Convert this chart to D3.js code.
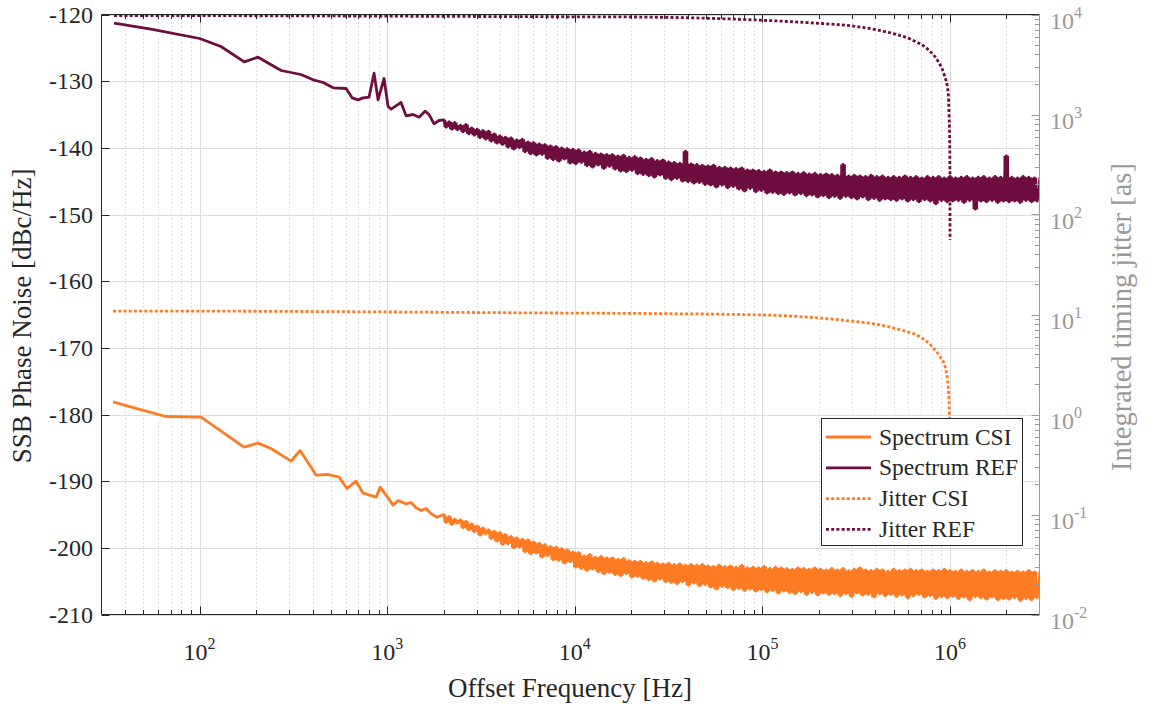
<!DOCTYPE html>
<html lang="en">
<head>
<meta charset="utf-8" />
<title>SSB Phase Noise and Integrated Timing Jitter</title>
<script src="https://cdn.jsdelivr.net/npm/d3@7"></script>
<style>
body { margin:0; background:#fff; }
text { font-family:"Liberation Serif","Times New Roman",serif; }
</style>
</head>
<body>
<svg id="chart" width="1155" height="708"></svg>

<script type="text/javascript">
// ---- axes ----
var xDomain = [30, 3e6];
var xDecades = [1e2, 1e3, 1e4, 1e5, 1e6];
var xExponents = ["2", "3", "4", "5", "6"];
var yLeftDomain = [-210, -120];
var yLeftTicks = [-210, -200, -190, -180, -170, -160, -150, -140, -130, -120];
var yRightDomain = [1e-2, 1e4];
var yRightDecades = [1e-2, 1e-1, 1e0, 1e1, 1e2, 1e3, 1e4];
var yRightExponents = ["-2", "-1", "0", "1", "2", "3", "4"];
var legendLabels = ["Spectrum CSI", "Spectrum REF", "Jitter CSI", "Jitter REF"];

// ---- spectra, low offsets (read point by point) ----
var refLowFreq = [35, 55, 100, 130, 173, 205, 272, 347, 403, 456, 515, 604, 650, 700, 744, 800, 851, 894, 962, 1011,
  1050, 1114, 1185, 1261, 1374, 1479, 1592, 1671, 1778, 1888];
var refLowDb = [-121.3, -122.2, -123.6, -124.8, -127.1, -126.4, -128.4, -129.0, -129.8, -130.2, -131.0, -131.1, -132.5, -132.8, -132.5, -132.4, -128.8, -132.8, -129.6, -133.8,
  -134.2, -133.7, -133.2, -135.2, -135.0, -135.4, -134.5, -135.0, -136.4, -135.9];

var csiLowFreq = [34.6, 44.8, 66.2, 101.8, 172.6, 205, 240, 307.5, 343.4, 393, 418, 484, 554, 611, 682, 744, 873, 917, 987, 1075,
  1143, 1261, 1340, 1425, 1516, 1611, 1714, 1845];
var csiLowDb = [-178.1, -179.0, -180.3, -180.4, -184.9, -184.3, -185.1, -187.0, -185.4, -187.9, -189.1, -189.0, -189.4, -191.1, -190.0, -191.8, -192.4, -190.9, -192.1, -193.6,
  -192.9, -193.4, -193.2, -194.0, -194.4, -194.1, -194.9, -195.4];

// ---- spectra, noisy part: analyzer points every 0.015 decade from 10^3.3 Hz ----
var noiseLogStart = 3.3;
var noiseLogStep = 0.015;
var refNoiseDb = [
  -135.8, -136.9, -136.1, -137.2, -136.2, -137.3, -136.6, -137.6, -136.5, -137.9,
  -137.0, -138.1, -137.2, -138.5, -137.4, -138.7, -137.5, -139.0, -137.9, -139.3,
  -138.2, -139.5, -138.4, -139.9, -138.5, -140.2, -138.8, -140.0, -138.7, -140.6,
  -139.1, -140.9, -139.2, -141.1, -139.4, -141.0, -139.5, -141.6, -139.7, -141.8,
  -139.8, -142.0, -140.0, -141.7, -140.1, -142.3, -140.2, -142.4, -140.3, -142.2,
  -140.6, -142.7, -140.5, -142.9, -140.8, -142.6, -140.9, -143.1, -141.0, -142.8,
  -141.0, -143.2, -141.2, -143.5, -141.1, -143.6, -141.4, -143.4, -141.3, -143.9,
  -141.5, -144.0, -141.7, -144.2, -141.6, -144.4, -141.9, -144.1, -141.8, -144.6,
  -142.1, -144.8, -142.2, -144.6, -142.3, -145.0, -140.5, -145.1, -142.4, -145.3,
  -142.5, -145.2, -142.6, -145.5, -142.7, -145.6, -142.6, -145.9, -142.9, -145.6,
  -142.9, -146.0, -143.0, -145.8, -143.1, -146.2, -143.0, -146.5, -143.3, -146.1,
  -143.3, -146.6, -143.4, -146.4, -143.5, -146.8, -143.3, -146.7, -143.6, -146.9,
  -143.6, -147.0, -143.7, -146.8, -143.6, -147.1, -143.8, -146.9, -143.7, -147.2,
  -143.9, -147.1, -143.8, -147.4, -144.0, -147.2, -143.9, -147.5, -144.0, -147.3,
  -144.1, -147.6, -142.5, -147.3, -144.2, -147.5, -144.1, -147.7, -144.2, -147.4,
  -144.3, -147.8, -144.1, -147.6, -144.3, -147.9, -144.2, -147.7, -144.4, -147.8,
  -144.3, -147.9, -144.4, -147.7, -144.2, -148.0, -144.4, -147.8, -144.3, -148.1,
  -144.5, -147.8, -144.3, -148.0, -144.4, -148.4, -144.3, -147.9, -144.5, -148.1,
  -144.3, -148.0, -144.5, -147.9, -144.4, -148.2, -144.3, -147.9, -144.5, -149.2,
  -144.4, -148.0, -144.3, -148.1, -144.5, -147.9, -144.3, -148.2, -144.4, -148.0,
  -141.2, -148.1, -144.4, -148.0, -144.5, -148.2, -144.3, -147.9, -144.4, -148.1,
  -144.5, -148.0, -144.4];
var csiNoiseDb = [
  -195.0, -196.2, -195.3, -196.5, -195.7, -196.3, -195.8, -197.0, -196.0, -197.3,
  -196.4, -197.6, -196.7, -198.1, -197.0, -197.9, -197.3, -198.6, -197.5, -199.0,
  -197.7, -199.5, -198.0, -199.4, -198.3, -200.0, -198.5, -199.9, -198.7, -200.6,
  -198.8, -200.9, -199.1, -200.8, -199.3, -201.4, -199.5, -201.2, -199.8, -201.8,
  -199.9, -201.9, -200.1, -202.3, -200.3, -202.1, -200.6, -202.9, -200.7, -203.1,
  -201.2, -203.4, -201.0, -203.2, -201.4, -203.6, -201.3, -203.9, -201.5, -203.7,
  -201.5, -204.0, -201.7, -204.2, -201.6, -203.9, -201.9, -204.4, -202.0, -204.3,
  -202.0, -204.6, -202.2, -204.8, -202.1, -205.0, -202.3, -204.7, -202.4, -205.1,
  -202.3, -205.2, -202.5, -205.4, -202.4, -205.1, -202.6, -205.6, -202.5, -205.3,
  -202.6, -205.7, -202.5, -205.5, -202.7, -205.9, -202.8, -206.2, -202.6, -205.8,
  -202.8, -206.0, -202.7, -206.3, -202.9, -206.1, -202.6, -206.4, -203.0, -206.2,
  -202.9, -206.5, -203.0, -206.3, -202.8, -206.6, -203.1, -206.4, -202.9, -206.8,
  -203.0, -206.5, -203.1, -206.7, -203.2, -206.9, -203.0, -206.6, -203.1, -207.0,
  -203.2, -206.7, -203.0, -207.1, -203.2, -206.8, -203.3, -207.0, -203.1, -206.9,
  -203.3, -207.2, -203.1, -206.9, -203.4, -207.3, -203.2, -206.8, -203.0, -207.1,
  -203.3, -207.0, -203.4, -207.4, -203.2, -206.9, -203.3, -207.2, -203.5, -207.0,
  -203.2, -207.3, -203.4, -207.1, -203.3, -207.5, -203.2, -207.2, -203.4, -207.0,
  -203.3, -207.4, -203.5, -207.2, -203.3, -207.6, -203.4, -207.3, -203.2, -207.5,
  -203.4, -207.3, -203.5, -207.6, -203.3, -207.4, -203.5, -207.8, -203.4, -207.3,
  -203.5, -207.5, -203.3, -207.7, -203.6, -207.4, -203.4, -207.8, -203.5, -207.6,
  -203.4, -207.7, -203.6, -207.5, -203.5, -207.9, -203.6, -207.6, -203.4, -207.8,
  -203.6, -207.5, -203.5];

// ---- integrated jitter [as] ----
var jitCsiFreq = [34.6, 100, 1000, 5000, 28800, 98000, 205000, 296000, 403000, 548000, 701000, 793000, 875000, 942000, 977000, 990000, 993500];
var jitCsiAs = [10.8, 10.8, 10.6, 10.4, 10.2, 9.9, 9.2, 8.6, 8.0, 7.0, 5.9, 4.9, 3.9, 3.0, 1.9, 1.2, 0.87];
var jitRefFreq = [35, 300, 8450, 19200, 98000, 205000, 308000, 414000, 504000, 621000, 764000, 864000, 931000, 978000, 989000, 997800, 999600, 999966];
var jitRefAs = [9770, 9700, 9490, 9450, 8770, 8130, 7640, 6970, 6410, 5620, 4460, 3400, 2510, 1650, 955, 447, 150, 56];

// ---- layout ----
var L = 101.5, R = 1039.5, T = 14.5, B = 614.5;
var colCSI = "#fd7b23", colREF = "#6e0d3f";
var axCol = "#262626", rCol = "#999999";

var svg = d3.select("#chart");
var x = d3.scaleLog().domain(xDomain).range([L, R]);
var yL = d3.scaleLinear().domain(yLeftDomain).range([B, T]);
var yR = d3.scaleLog().domain(yRightDomain).range([B, T]);

// minor ticks (2..9 per decade)
var xMinor = [];
[10, 100, 1e3, 1e4, 1e5, 1e6].forEach(function (d) {
  for (var k = 2; k <= 9; k++) { var v = k * d; if (v > xDomain[0] && v < xDomain[1] && xDecades.indexOf(v) < 0) xMinor.push(v); }
});
var yRMinor = [];
yRightDecades.slice(0, -1).forEach(function (d) {
  for (var k = 2; k <= 9; k++) yRMinor.push(k * d);
});

// grid
var grid = svg.append("g");
grid.selectAll(".gmx").data(xMinor).enter().append("line")
  .attr("x1", function (d) { return Math.round(x(d)) + 0.5; }).attr("x2", function (d) { return Math.round(x(d)) + 0.5; })
  .attr("y1", T).attr("y2", B)
  .attr("stroke", "#c4c4c4").attr("stroke-dasharray", "1,3");
grid.selectAll(".gx").data(xDecades).enter().append("line")
  .attr("x1", function (d) { return Math.round(x(d)) + 0.5; }).attr("x2", function (d) { return Math.round(x(d)) + 0.5; })
  .attr("y1", T).attr("y2", B)
  .attr("stroke", "#dcdcdc");
grid.selectAll(".gy").data(yLeftTicks).enter().append("line")
  .attr("x1", L).attr("x2", R)
  .attr("y1", function (d) { return Math.round(yL(d)) + 0.5; }).attr("y2", function (d) { return Math.round(yL(d)) + 0.5; })
  .attr("stroke", "#dcdcdc");

// curves
svg.append("clipPath").attr("id", "plotclip").append("rect")
  .attr("x", L).attr("y", T).attr("width", R - L).attr("height", B - T);
var plot = svg.append("g").attr("clip-path", "url(#plotclip)");

var noiseFreq = refNoiseDb.map(function (_, i) { return Math.pow(10, noiseLogStart + i * noiseLogStep); });
var refPts = d3.zip(refLowFreq.concat(noiseFreq), refLowDb.concat(refNoiseDb));
var csiPts = d3.zip(csiLowFreq.concat(noiseFreq), csiLowDb.concat(csiNoiseDb));

// the dense trace renders as a solid band: fill each segment's vertical extent
function bandPts(vals) {
  return vals.slice(0, -1).map(function (v, i) {
    return [noiseFreq[i], Math.min(v, vals[i + 1]), Math.max(v, vals[i + 1])];
  });
}
var band = d3.area().curve(d3.curveStepAfter)
  .x(function (d) { return x(d[0]); })
  .y0(function (d) { return yL(d[1]); })
  .y1(function (d) { return yL(d[2]); });

var specLine = d3.line().x(function (d) { return x(d[0]); }).y(function (d) { return yL(d[1]); });
var jitLine = d3.line().x(function (d) { return x(d[0]); }).y(function (d) { return yR(d[1]); }).curve(d3.curveMonotoneX);

plot.append("path").datum(d3.zip(jitCsiFreq, jitCsiAs)).attr("d", jitLine)
  .attr("fill", "none").attr("stroke", colCSI).attr("stroke-width", 2.8).attr("stroke-dasharray", "3,2.2");
plot.append("path").datum(d3.zip(jitRefFreq, jitRefAs)).attr("d", jitLine)
  .attr("fill", "none").attr("stroke", colREF).attr("stroke-width", 2.8).attr("stroke-dasharray", "3,2.2");

plot.append("path").datum(bandPts(csiNoiseDb)).attr("d", band).attr("fill", colCSI);
plot.append("path").datum(csiPts).attr("d", specLine)
  .attr("fill", "none").attr("stroke", colCSI).attr("stroke-width", 2.8).attr("stroke-linejoin", "round");
plot.append("path").datum(bandPts(refNoiseDb)).attr("d", band).attr("fill", colREF);
plot.append("path").datum(refPts).attr("d", specLine)
  .attr("fill", "none").attr("stroke", colREF).attr("stroke-width", 2.8).attr("stroke-linejoin", "round");

// axis frame and ticks
var ax = svg.append("g").attr("fill", "none");
ax.append("line").attr("x1", L).attr("x2", R).attr("y1", B).attr("y2", B).attr("stroke", axCol);
ax.append("line").attr("x1", L).attr("x2", R).attr("y1", T).attr("y2", T).attr("stroke", axCol);
ax.append("line").attr("x1", L).attr("x2", L).attr("y1", T).attr("y2", B).attr("stroke", axCol);
ax.append("line").attr("x1", R).attr("x2", R).attr("y1", T).attr("y2", B).attr("stroke", rCol);

function xTicks(vals, len) {
  vals.forEach(function (v) {
    var px = Math.round(x(v)) + 0.5;
    ax.append("line").attr("x1", px).attr("x2", px).attr("y1", B).attr("y2", B - len).attr("stroke", axCol);
    ax.append("line").attr("x1", px).attr("x2", px).attr("y1", T).attr("y2", T + len).attr("stroke", axCol);
  });
}
xTicks(xDecades, 8);
xTicks(xMinor, 4.5);
yLeftTicks.forEach(function (v) {
  var py = Math.round(yL(v)) + 0.5;
  ax.append("line").attr("x1", L).attr("x2", L + 8).attr("y1", py).attr("y2", py).attr("stroke", axCol);
});
yRightDecades.forEach(function (v) {
  var py = Math.round(yR(v)) + 0.5;
  ax.append("line").attr("x1", R).attr("x2", R - 8).attr("y1", py).attr("y2", py).attr("stroke", rCol);
});
yRMinor.forEach(function (v) {
  var py = Math.round(yR(v)) + 0.5;
  ax.append("line").attr("x1", R).attr("x2", R - 4.5).attr("y1", py).attr("y2", py).attr("stroke", rCol);
});

// tick labels
function powLabel(t, exp) {
  t.append("tspan").text("10");
  t.append("tspan").attr("dy", -11).attr("font-size", 16).text(exp);
}
var lab = svg.append("g");
yLeftTicks.forEach(function (v) {
  lab.append("text").attr("x", 93).attr("y", yL(v) + 8).attr("text-anchor", "end")
    .attr("font-size", 24).attr("fill", axCol).text(v);
});
xDecades.forEach(function (v, i) {
  var t = lab.append("text").attr("x", x(v)).attr("y", 660).attr("text-anchor", "middle")
    .attr("font-size", 24).attr("fill", axCol);
  powLabel(t, xExponents[i]);
});
yRightDecades.forEach(function (v, i) {
  var t = lab.append("text").attr("x", 1050).attr("y", yR(v) + 14)
    .attr("font-size", 24).attr("fill", rCol);
  powLabel(t, yRightExponents[i]);
});

// axis titles
lab.append("text").attr("x", 570).attr("y", 697).attr("text-anchor", "middle")
  .attr("font-size", 27).attr("fill", axCol).text("Offset Frequency [Hz]");
lab.append("text").attr("transform", "translate(31,316) rotate(-90)").attr("text-anchor", "middle")
  .attr("font-size", 27).attr("fill", axCol).text("SSB Phase Noise [dBc/Hz]");
lab.append("text").attr("transform", "translate(1131,317) rotate(-90)").attr("text-anchor", "middle")
  .attr("font-size", 28.5).attr("fill", rCol).text("Integrated timing jitter [as]");

// legend
var leg = svg.append("g");
leg.append("rect").attr("x", 821.5).attr("y", 418.5).attr("width", 201).attr("height", 127)
  .attr("fill", "#fff").attr("stroke", axCol);
var legCols = [colCSI, colREF, colCSI, colREF];
var legDash = [null, null, "3,2.2", "3,2.2"];
legendLabels.forEach(function (name, i) {
  var ly = 437 + i * 30.8;
  leg.append("line").attr("x1", 826).attr("x2", 871).attr("y1", ly).attr("y2", ly)
    .attr("stroke", legCols[i]).attr("stroke-width", 2.8).attr("stroke-dasharray", legDash[i]);
  leg.append("text").attr("x", 879).attr("y", ly + 7.5).attr("font-size", 23.5).attr("fill", axCol).text(name);
});
</script>
</body>
</html>
